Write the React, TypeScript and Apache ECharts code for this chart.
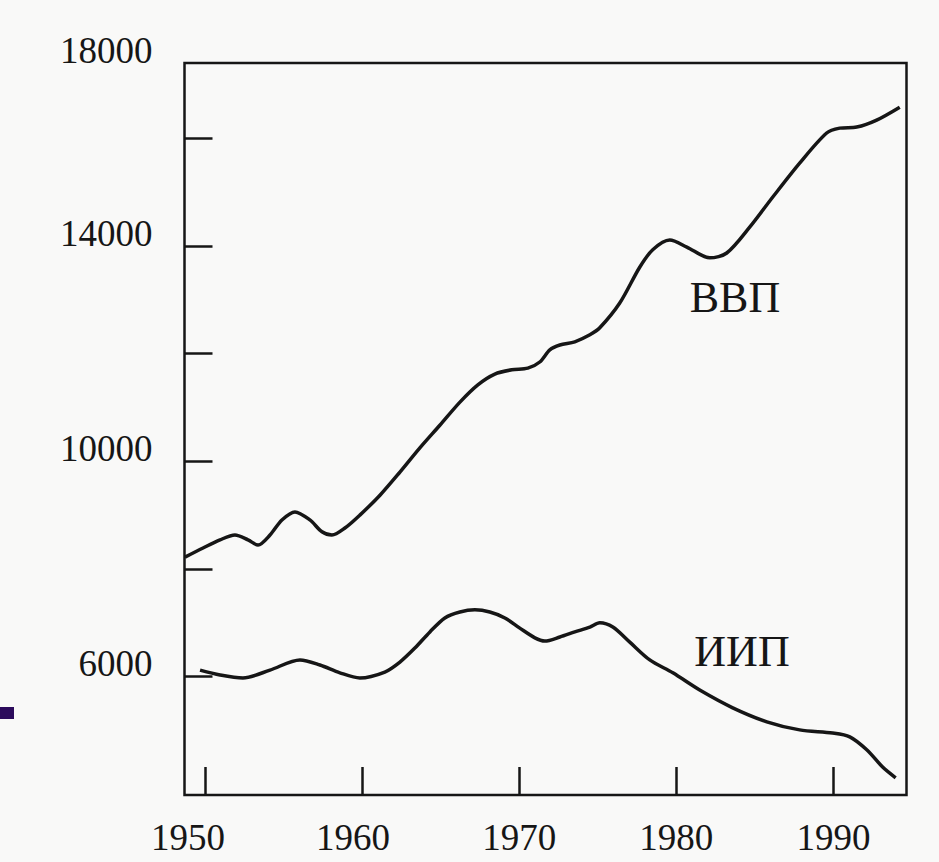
import React, { useEffect, useRef } from "react";
import * as echarts from "echarts";

// ВВП (years, values)
const gdpYears = [1948.73, 1949.88, 1950.96, 1951.91, 1952.74, 1953.38, 1954.14, 1954.9, 1955.73, 1956.68, 1957.45, 1958.08, 1958.91, 1959.86, 1961.14, 1962.41, 1963.68, 1964.95, 1966.23, 1967.37, 1968.45, 1969.53, 1970.55, 1971.31, 1971.95, 1972.59, 1973.54, 1974.5, 1975.13, 1976.4, 1977.68, 1978.5, 1979.58, 1980.67, 1982.13, 1983.21, 1984.67, 1986.14, 1987.85, 1989.57, 1990.4, 1991.48, 1992.75, 1994.22];
const gdpValues = [8220, 8390, 8540, 8630, 8540, 8445, 8630, 8910, 9060, 8910, 8690, 8630, 8760, 9000, 9370, 9800, 10250, 10670, 11100, 11420, 11620, 11700, 11730, 11845, 12070, 12160, 12220, 12350, 12480, 12940, 13610, 13930, 14110, 13980, 13780, 13870, 14350, 14910, 15540, 16100, 16190, 16210, 16340, 16580];

// ИИП
const iipYears = [1949.69, 1950.96, 1952.42, 1954.14, 1956.05, 1957.32, 1958.59, 1959.86, 1961.45, 1962.41, 1963.36, 1964.32, 1965.27, 1966.23, 1967.18, 1968.13, 1969.09, 1970.04, 1971.0, 1971.63, 1972.59, 1973.54, 1974.5, 1975.13, 1975.96, 1977.04, 1978.31, 1979.78, 1981.49, 1983.59, 1985.76, 1987.85, 1989.95, 1991.04, 1992.12, 1993.13, 1993.96];
const iipValues = [6120, 6030, 5975, 6120, 6310, 6215, 6070, 5975, 6085, 6270, 6530, 6830, 7090, 7200, 7240, 7200, 7090, 6900, 6720, 6660, 6735, 6830, 6920, 7000, 6920, 6640, 6310, 6070, 5750, 5420, 5160, 5010, 4950, 4880, 4640, 4320, 4120];

const xTicks = [1950, 1960, 1970, 1980, 1990];
const yTicks = [6000, 8000, 10000, 12000, 14000, 16000];
const yLabelValues = [6000, 10000, 14000, 17400];
const yTopLabel = "18000";
const seriesNames = ["ВВП", "ИИП"];

const FONT = "'Liberation Serif', 'Times New Roman', serif";
const INK = "#161616";

export default function App() {
  const ref = useRef<HTMLDivElement>(null);
  useEffect(() => {
    if (!ref.current) return;
    const chart = echarts.init(ref.current, undefined, { renderer: "svg" });
    const gdp = gdpYears.map((y, i) => [y, gdpValues[i]]);
    const iip = iipYears.map((y, i) => [y, iipValues[i]]);
    chart.setOption({
      animation: false,
      backgroundColor: "#f9f9f8",
      grid: {
        left: 184.5,
        right: 32.5,
        top: 63,
        bottom: 67,
        show: true,
        borderColor: INK,
        borderWidth: 2.5,
        backgroundColor: "transparent",
      },
      xAxis: {
        type: "value",
        min: 1948.7,
        max: 1994.65,
        splitLine: { show: false },
        axisLine: { show: false },
        axisTick: {
          show: true,
          inside: true,
          length: 28,
          customValues: xTicks,
          lineStyle: { color: INK, width: 2.5 },
        },
        axisLabel: {
          customValues: xTicks,
          margin: 24,
          color: INK,
          fontFamily: FONT,
          fontSize: 37,
          formatter: (v: number) =>
            v === 1950 ? "{l|1950}" : v === 1960 ? "{m|1960}" : String(v),
          rich: {
            l: { padding: [0, 34, 0, 0], fontFamily: FONT, fontSize: 37, color: INK },
            m: { padding: [0, 18, 0, 0], fontFamily: FONT, fontSize: 37, color: INK },
          },
        },
      },
      yAxis: {
        type: "value",
        min: 3800,
        max: 17400,
        splitLine: { show: false },
        axisLine: { show: false },
        axisTick: {
          show: true,
          inside: true,
          length: 28,
          customValues: yTicks,
          lineStyle: { color: INK, width: 2.5 },
        },
        axisLabel: {
          customValues: yLabelValues,
          margin: 32,
          color: INK,
          fontFamily: FONT,
          fontSize: 37,
          verticalAlign: "bottom",
          lineHeight: 26,
          formatter: (v: number) => (v === 17400 ? yTopLabel : String(v)),
        },
      },
      series: [
        {
          name: seriesNames[0],
          type: "line",
          data: gdp,
          smooth: 0.3,
          symbol: "none",
          lineStyle: { color: INK, width: 3.5 },
        },
        {
          name: seriesNames[1],
          type: "line",
          data: iip,
          smooth: 0.3,
          symbol: "none",
          lineStyle: { color: INK, width: 3.5 },
        },
      ],
      graphic: [
        {
          type: "text",
          x: 735,
          y: 297,
          style: {
            text: seriesNames[0],
            fontFamily: FONT,
            fontSize: 44,
            fill: INK,
            align: "center",
            verticalAlign: "middle",
          },
        },
        {
          type: "text",
          x: 742,
          y: 651,
          style: {
            text: seriesNames[1],
            fontFamily: FONT,
            fontSize: 44,
            fill: INK,
            align: "center",
            verticalAlign: "middle",
          },
        },
        {
          type: "rect",
          shape: { x: 0, y: 707, width: 14, height: 12 },
          style: { fill: "#2c0b5c" },
        },
      ],
    });
    return () => chart.dispose();
  }, []);
  return (
    <div
      ref={ref}
      style={{ position: "fixed", left: 0, top: 0, width: 939, height: 862 }}
    />
  );
}
